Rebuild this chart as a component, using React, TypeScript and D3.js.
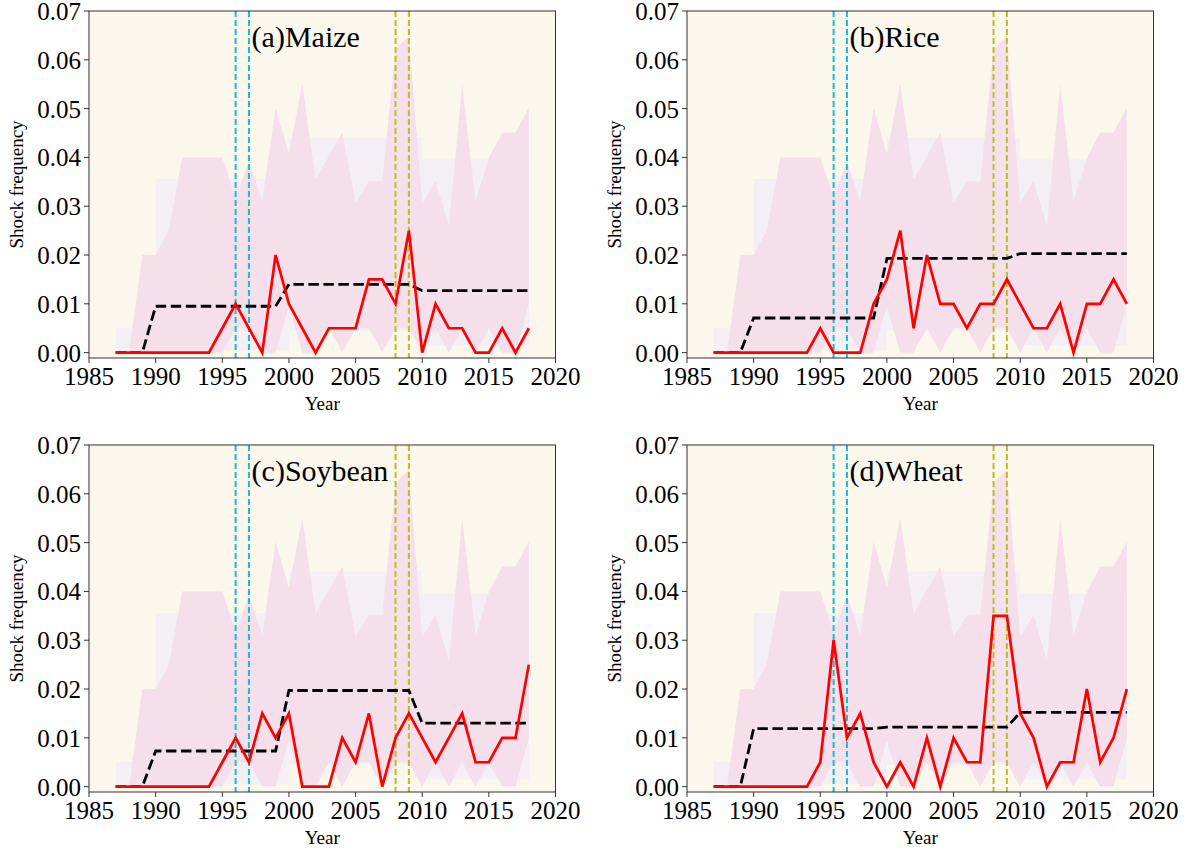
import React from 'react';
import * as d3 from 'd3';

const years = [1987, 1988, 1989, 1990, 1991, 1992, 1993, 1994, 1995, 1996, 1997, 1998, 1999, 2000, 2001, 2002,
  2003, 2004, 2005, 2006, 2007, 2008, 2009, 2010, 2011, 2012, 2013, 2014, 2015, 2016, 2017, 2018];

// yearly range (pink)
const rangeHi = [0, 0, 0.02, 0.02, 0.0252, 0.04, 0.04, 0.04, 0.04, 0.0317, 0.0392, 0.031, 0.0502, 0.0407, 0.0551, 0.0355,
  0.0403, 0.0451, 0.0307, 0.0351, 0.0351, 0.0622, 0.0649, 0.0307, 0.0351, 0.0259, 0.055, 0.031, 0.0399, 0.0451, 0.0451, 0.0502];
const rangeLo = [0, 0, 0, 0, 0, 0, 0, 0, 0, 0.005, 0.005, 0, 0, 0.0095, 0, 0,
  0.005, 0, 0.005, 0.005, 0, 0.005, 0.005, 0, 0.005, 0, 0.005, 0, 0.005, 0, 0, 0.01];

// period range (lavender)
const periodStart = [1987, 1990, 2000, 2010];
const periodEnd = [1990, 2000, 2010, 2018];
const periodLo = [0, 0.0005, 0.0045, 0.0015];
const periodHi = [0.0051, 0.0356, 0.0441, 0.0396];

const cyanYears = [1996, 1997];
const oliveYears = [2008, 2009];

const xTicks = [1985, 1990, 1995, 2000, 2005, 2010, 2015, 2020];
const yTicks = [0, 0.01, 0.02, 0.03, 0.04, 0.05, 0.06, 0.07];

const maizeObs = [0, 0, 0, 0, 0, 0, 0, 0, 0.005, 0.01, 0.005, 0, 0.02, 0.01, 0.005, 0,
  0.005, 0.005, 0.005, 0.015, 0.015, 0.01, 0.025, 0, 0.01, 0.005, 0.005, 0, 0, 0.005, 0, 0.005];
const maizeMean = [0, 0, 0, 0.0095, 0.0095, 0.0095, 0.0095, 0.0095, 0.0095, 0.0095, 0.0095, 0.0095, 0.0095, 0.014, 0.014, 0.014,
  0.014, 0.014, 0.014, 0.014, 0.014, 0.014, 0.014, 0.0127, 0.0127, 0.0127, 0.0127, 0.0127, 0.0127, 0.0127, 0.0127, 0.0127];

const riceObs = [0, 0, 0, 0, 0, 0, 0, 0, 0.005, 0, 0, 0, 0.01, 0.015, 0.025, 0.005,
  0.02, 0.01, 0.01, 0.005, 0.01, 0.01, 0.015, 0.01, 0.005, 0.005, 0.01, 0, 0.01, 0.01, 0.015, 0.01];
const riceMean = [0, 0, 0, 0.0071, 0.0071, 0.0071, 0.0071, 0.0071, 0.0071, 0.0071, 0.0071, 0.0071, 0.0071, 0.0193, 0.0193, 0.0193,
  0.0193, 0.0193, 0.0193, 0.0193, 0.0193, 0.0193, 0.0193, 0.0203, 0.0203, 0.0203, 0.0203, 0.0203, 0.0203, 0.0203, 0.0203, 0.0203];

const soyObs = [0, 0, 0, 0, 0, 0, 0, 0, 0.005, 0.01, 0.005, 0.015, 0.01, 0.015, 0, 0,
  0, 0.01, 0.005, 0.015, 0, 0.01, 0.015, 0.01, 0.005, 0.01, 0.015, 0.005, 0.005, 0.01, 0.01, 0.025];
const soyMean = [0, 0, 0, 0.0073, 0.0073, 0.0073, 0.0073, 0.0073, 0.0073, 0.0073, 0.0073, 0.0073, 0.0073, 0.0197, 0.0197, 0.0197,
  0.0197, 0.0197, 0.0197, 0.0197, 0.0197, 0.0197, 0.0197, 0.013, 0.013, 0.013, 0.013, 0.013, 0.013, 0.013, 0.013, 0.013];

const wheatObs = [0, 0, 0, 0, 0, 0, 0, 0, 0.005, 0.03, 0.01, 0.015, 0.005, 0, 0.005, 0,
  0.01, 0, 0.01, 0.005, 0.005, 0.035, 0.035, 0.015, 0.01, 0, 0.005, 0.005, 0.02, 0.005, 0.01, 0.02];
const wheatMean = [0, 0, 0, 0.0119, 0.0119, 0.0119, 0.0119, 0.0119, 0.0119, 0.0119, 0.0119, 0.0119, 0.0119, 0.0122, 0.0122, 0.0122,
  0.0122, 0.0122, 0.0122, 0.0122, 0.0122, 0.0122, 0.0122, 0.0152, 0.0152, 0.0152, 0.0152, 0.0152, 0.0152, 0.0152, 0.0152, 0.0152];

const serif = '"Liberation Serif", "Times New Roman", serif';

const Panel = ({ left, top, title, obs, mean }) => {
  const w = 466.5;
  const h = 347;
  const x = d3.scaleLinear().domain([1985, 2020]).range([0, w]);
  const y = d3.scaleLinear().domain([-0.0011, 0.07]).range([h, 0]);

  const rangeArea = d3
    .area()
    .x((d, i) => x(years[i]))
    .y0((d, i) => y(rangeLo[i]))
    .y1((d) => y(d));

  const line = d3
    .line()
    .x((d, i) => x(years[i]))
    .y((d) => y(d));

  return (
    <g transform={`translate(${left},${top})`}>
      <rect x={0} y={0} width={w} height={h} fill="#fcf7ec" />
      {periodStart.map((s, i) => (
        <rect
          key={'p' + i}
          x={x(s)}
          y={y(periodHi[i])}
          width={x(periodEnd[i]) - x(s)}
          height={y(periodLo[i]) - y(periodHi[i])}
          fill="#f4eff5"
        />
      ))}
      <path d={rangeArea(rangeHi)} fill="#f5dfeb" />
      {cyanYears.map((yr) => (
        <line key={'c' + yr} x1={x(yr)} x2={x(yr)} y1={0} y2={h} stroke="#17becf" strokeWidth={2} strokeDasharray="6 3" />
      ))}
      {oliveYears.map((yr) => (
        <line key={'o' + yr} x1={x(yr)} x2={x(yr)} y1={0} y2={h} stroke="#bcbd22" strokeWidth={2} strokeDasharray="6 3" />
      ))}
      <path d={line(mean)} fill="none" stroke="#000" strokeWidth={2.8} strokeDasharray="10.5 4.5" />
      <path d={line(obs)} fill="none" stroke="#ff0000" strokeWidth={2.7} strokeLinejoin="miter" />
      <text x={x(1997.2)} y={y(0.0627)} fontFamily={serif} fontSize={30} fill="#000">{title}</text>
      <rect x={0} y={0} width={w} height={h} fill="none" stroke="#333" strokeWidth={1} />
      {xTicks.map((t) => (
        <g key={'x' + t} transform={`translate(${x(t)},${h})`}>
          <line y1={0} y2={5} stroke="#333" />
          <text y={27} textAnchor="middle" fontFamily={serif} fontSize={25} fill="#000">{t}</text>
        </g>
      ))}
      {yTicks.map((t) => (
        <g key={'y' + t} transform={`translate(0,${y(t)})`}>
          <line x1={0} x2={-5} stroke="#333" />
          <text x={-8} dy="0.36em" textAnchor="end" fontFamily={serif} fontSize={25} fill="#000">{d3.format('.2f')(t)}</text>
        </g>
      ))}
      <text x={w / 2} y={h + 52} textAnchor="middle" fontFamily={serif} fontSize={19} fill="#000">Year</text>
      <text transform={`translate(${-66},${h / 2}) rotate(-90)`} textAnchor="middle" fontFamily={serif} fontSize={19} fill="#000">Shock frequency</text>
    </g>
  );
};

export default function App() {
  return (
    <svg width={1191} height={853} style={{ position: 'absolute', left: 0, top: 0, background: '#fff' }}>
      <Panel left={89} top={11} title="(a)Maize" obs={maizeObs} mean={maizeMean} />
      <Panel left={687} top={11} title="(b)Rice" obs={riceObs} mean={riceMean} />
      <Panel left={89} top={445} title="(c)Soybean" obs={soyObs} mean={soyMean} />
      <Panel left={687} top={445} title="(d)Wheat" obs={wheatObs} mean={wheatMean} />
    </svg>
  );
}
